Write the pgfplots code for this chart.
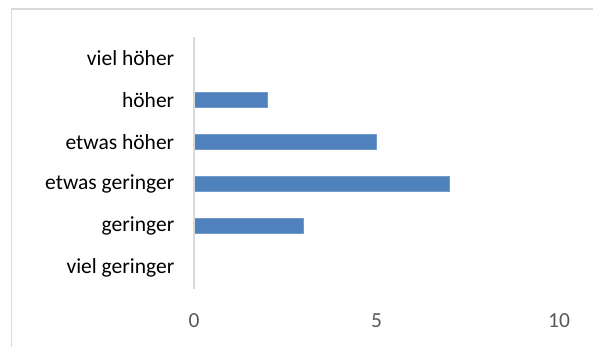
\documentclass[border=0pt]{standalone}
\usepackage{fontspec}
\setmainfont{Carlito}
\usepackage{pgfplots}
\pgfplotsset{compat=1.18}
\definecolor{barblue}{HTML}{4F81BD}
\definecolor{axgray}{HTML}{D9D9D9}
\definecolor{lblgray}{HTML}{595959}
\begin{document}
\begin{tikzpicture}[x=1bp,y=1bp]
\useasboundingbox (-194bp,-58bp) rectangle (399bp,289bp);
\begin{scope}
\clip (-194bp,-58bp) rectangle (399bp,289bp);
\draw[axgray, line width=1.6bp] (-182.5bp,-70bp) -- (-182.5bp,280bp) -- (420bp,280bp);
\end{scope}
\begin{axis}[
  at={(0,0)}, anchor=south west,
  scale only axis,
  width=365bp, height=252bp,
  xbar, bar width=15bp,
  xmin=0, xmax=10,
  ymin=-0.5, ymax=5.5,
  xtick={0,5,10},
  ytick={0,1,2,3,4,5},
  yticklabels={viel geringer,geringer,etwas geringer,etwas höher,höher,viel höher},
  axis lines*=left,
  axis line style={draw=none},
  tick style={draw=none},
  xticklabel style={font=\fontsize{21.5bp}{25bp}\selectfont, text=lblgray, yshift=-21bp},
  yticklabel style={font=\fontsize{21.5bp}{25bp}\selectfont, text=black, xshift=-12bp},
  /pgf/number format/assume math mode=true,
  clip=false,
]
\addplot[fill=barblue, draw=barblue!80!white, line width=0.6bp] coordinates {
 (0,0) (3,1) (7,2) (5,3) (2,4) (0,5)
};
\draw[axgray, line width=1.3bp] (axis cs:0,-0.5) -- (axis cs:0,5.5);
\end{axis}
\end{tikzpicture}
\end{document}
